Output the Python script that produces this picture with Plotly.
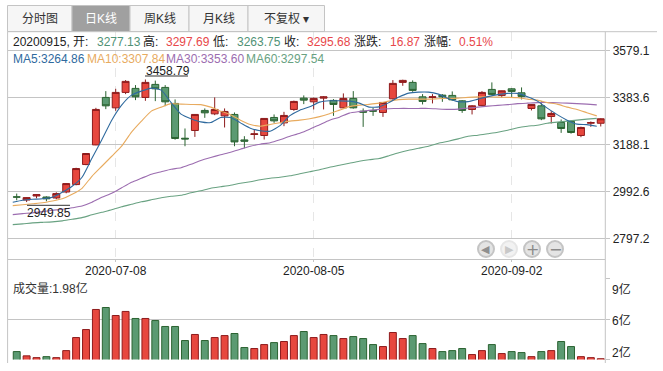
import plotly.graph_objects as go
import pandas as pd

W, H = 663, 371

dates = pd.bdate_range("2020-06-22", periods=70).strftime("%Y-%m-%d").tolist()
holidays = {"2020-06-25", "2020-06-26"}
dates = [d for d in dates if d not in holidays][:60]
index = list(range(60))

opens = [2971.5,2958.4,2975.1,2970.9,2966.8,2991.7,3022.5,3105.7,3187.2,3384.4,3341.2,3405.2,3421.9,3384.4,3438.5,3426,3359.5,3215,3247.2,3330.4,
         3316.2,3307.9,3313.7,3208,3230.5,3226.4,3301.2,3278.8,3334.5,3381.5,3366.1,3381.5,3372,3341.2,3380.3,3327.4,3330,3322,3378.6,3446.8,
         3446.8,3386.9,3384.4,3394,3392.8,3370.3,3334.5,3351.2,3417.7,3392.8,3420.2,3403.6,3338.7,3349.5,3305.4,3280.4,3284.6,3226.4,3277.5,3277.13]
highs = [2985.1,2969.7,2982.2,2973.8,2990.5,3027.9,3092.4,3152.7,3341.2,3410.6,3420.2,3456.4,3435.6,3458.79,3454.3,3435.6,3376.1,3255.5,3315,3338.7,
         3384.4,3338.7,3322,3223.4,3252.6,3298.3,3313.7,3324.5,3371.1,3392.8,3383.6,3389.8,3377.4,3401.1,3410.6,3338.7,3341.2,3364.9,3456.4,3458,
         3455.2,3398.2,3398.2,3398.2,3409.4,3373.2,3352.4,3410.6,3446.8,3412.7,3423.1,3426,3356.6,3369,3327.4,3292.9,3290,3263,3284.6,3297.69]
lows = [2957.2,2949.85,2965.5,2953,2961.4,2986.3,3019.6,3102.8,3186,3335.8,3328.7,3398.2,3373.2,3370.3,3369,3348.2,3208.9,3181.8,3220.5,3299.6,
        3310.8,3259.6,3181.8,3173.5,3209.7,3209.7,3278.8,3265,3328.7,3356.6,3334.5,3334.5,3307.9,3337.8,3337.8,3262.1,3307.9,3303.7,3375.3,3432.7,
        3407.7,3355.3,3359.5,3366.1,3371.1,3320.4,3313.7,3348.2,3394,3384.4,3382.8,3376.1,3330.4,3290,3276.3,3237.2,3233.8,3219.3,3262.1,3263.75]
closes = [2970.5,2968.4,2980.9,2963.4,2985.1,3026.7,3089.1,3151.5,3334.5,3349.5,3405.2,3451,3386.9,3446.8,3420.2,3366.1,3213.9,3212,3313.7,3320.4,
          3334.5,3326.2,3199.7,3202.6,3233,3297.1,3287.1,3309.6,3367.8,3373.2,3380.3,3386.9,3355.3,3380.3,3341.2,3323.3,3327.4,3363.6,3442.7,3455.2,
          3413.6,3367.8,3386.9,3386.9,3374.4,3330.4,3349.5,3405.2,3396.9,3411.9,3409.4,3388.6,3355.3,3295.4,3317.9,3255.5,3238.8,3259.6,3279.6,3295.68]

ma5 = [2948.9,2957.2,2961.4,2963.4,2969.7,2990.5,3015.4,3052.9,3131.9,3208.9,3290,3352.4,3394,3410.6,3423.1,3414.8,3362.8,3315,3296.2,3282.9,
       3280.4,3301.2,3301.2,3278.8,3256.7,3246.3,3244.2,3267.1,3308.7,3331.6,3345.3,3364.9,3370.3,3370.3,3369,3360.7,3344.1,3345.3,3362.8,3385.7,
       3402.3,3406.5,3406.5,3398.2,3380.3,3367,3367,3377.4,3387.8,3396.1,3401.1,3401.1,3386.9,3369,3339.9,3312.9,3290,3273.4,3271.3,3264.86]
ma10 = [2935.2,2938.5,2942.6,2946.8,2954.3,2963.4,2982.2,3007.1,3057,3098.6,3140.2,3181.8,3240.1,3285.8,3327.4,3344.1,3358.6,3356.6,3355.3,3354.5,
        3344.1,3327.4,3312.9,3290,3272.1,3265,3272.1,3279.6,3285.8,3290,3296.2,3304.6,3317,3331.6,3346.2,3352.4,3355.7,3360.7,3369,3375.3,
        3377.4,3377.4,3377.4,3379,3380.3,3381.5,3384.8,3386.5,3386.9,3385.7,3384.8,3383.6,3377.4,3373.2,3362.8,3356.6,3344.1,3334.5,3321.2,3307.84]
ma30 = [2897.7,2901.9,2905.2,2910.2,2915.6,2919.8,2926,2933.5,2948.9,2969.7,2986.3,3009.2,3032.1,3048.7,3065.4,3075.8,3086.2,3092.4,3107,3122.4,
        3134.8,3146.5,3156.9,3169.4,3181.8,3190.2,3196.4,3208.9,3223.4,3235.9,3252.6,3271.3,3290,3302.5,3319.1,3325.4,3330.8,3334.9,3337.4,3338.7,
        3338.7,3338.7,3338.7,3336.6,3334.9,3335.8,3340.8,3344.1,3348.2,3351.6,3354.5,3358.6,3360.7,3362.8,3363.2,3362,3360.7,3358.6,3356.6,3353.6]
ma60 = [2856.1,2859.4,2863.6,2865.7,2867.8,2871.9,2878.2,2885.2,2896.9,2907.3,2917.7,2930.2,2940.6,2951,2959.3,2967.6,2973.8,2978,2988.4,2996.7,
        3007.1,3013.4,3019.6,3027.9,3034.2,3042.5,3048.7,3052.9,3059.1,3067.4,3075.8,3084.1,3094.5,3102.8,3111.1,3119.4,3125.7,3130.7,3142.3,3154.8,
        3165.2,3173.5,3181.8,3194.3,3202.6,3212.2,3223.4,3227.6,3233.8,3240.1,3248.4,3258.8,3265,3269.2,3277.5,3281.7,3285.8,3290,3294.2,3297.54]
volume = [2.63,2.24,2.08,2.17,2.08,2.72,3.91,4.64,6.47,6.65,5.92,6.29,5.65,5.65,5.46,4.92,4.92,3.64,4.19,3.64,
          3.91,4.09,4.28,3.0,2.91,3.27,3.45,3.55,4.09,4.46,3.91,4.19,4.09,3.82,4.0,3.82,3.27,3.09,4.37,3.82,
          4.09,3.36,2.91,2.63,2.72,2.91,2.36,2.72,3.27,2.45,2.63,2.54,2.17,2.63,2.72,3.55,3.09,2.17,2.08,1.98]

price_ticks = [3579.1, 3383.6, 3188.1, 2992.6, 2797.2]
volume_ticks = [1.9, 5.6, 9.3]
date_ticks = [10, 30, 50]

RED, RED_EDGE = "#e7473e", "#8e1b1c"
GREEN, GREEN_EDGE = "#5b9a72", "#2b6331"
GRID = "#c4c4c4"
TXT = "#222222"
FONT = "Liberation Sans, Noto Sans CJK SC, sans-serif"
MA_BLUE, MA_ORANGE, MA_PURPLE, MA_GREEN = "#2f6a9e", "#e8ab5f", "#9c6db0", "#69a282"
TXT_RED, TXT_GREEN = "#e8474a", "#4f9276"

PLOT_L, PLOT_R = 8, 605.3
MAIN_T, MAIN_B = 32, 259.4
VOL_T, VOL_B = 278, 359.6
LINE_SHIFT = 0.4

px = lambda x: x / W
py = lambda y: 1 - y / H

fig = go.Figure()
fig.add_trace(go.Candlestick(
    x=index, open=opens, high=highs, low=lows, close=closes,
    increasing=dict(line=dict(color=RED_EDGE, width=1), fillcolor=RED),
    decreasing=dict(line=dict(color=GREEN_EDGE, width=1), fillcolor=GREEN),
    whiskerwidth=0, showlegend=False, hoverinfo="skip", xaxis="x", yaxis="y"))
for series, color in ((ma60, MA_GREEN), (ma30, MA_PURPLE), (ma10, MA_ORANGE), (ma5, MA_BLUE)):
    fig.add_trace(go.Scatter(
        x=[i - LINE_SHIFT for i in index], y=series, mode="lines",
        line=dict(color=color, width=1.1, shape="spline", smoothing=0.5),
        showlegend=False, hoverinfo="skip", xaxis="x", yaxis="y"))
up = [c >= o for o, c in zip(opens, closes)]
fig.add_trace(go.Bar(
    x=index, y=volume, width=0.7,
    marker=dict(color=[RED if u else GREEN for u in up],
                line=dict(color=[RED_EDGE if u else GREEN_EDGE for u in up], width=1)),
    showlegend=False, hoverinfo="skip", xaxis="x2", yaxis="y2"))

xr = [-0.88, 59.46]
shapes, anns = [], []

def rect(x0, y0, x1, y1, fill, line=GRID, width=1):
    shapes.append(dict(type="rect", xref="paper", yref="paper", x0=px(x0), x1=px(x1), y0=py(y0), y1=py(y1),
                       fillcolor=fill, line=dict(color=line, width=width), layer="below"))

def seg(x0, y0, x1, y1, color=GRID, width=1):
    shapes.append(dict(type="line", xref="paper", yref="paper", x0=px(x0), x1=px(x1), y0=py(y0), y1=py(y1),
                       line=dict(color=color, width=width)))

def label(x, y, text, color=TXT, size=12, anchor="left", family=FONT):
    anns.append(dict(xref="paper", yref="paper", x=px(x), y=py(y), text=text, showarrow=False,
                     xanchor=anchor, yanchor="middle", borderpad=0,
                     font=dict(family=family, size=size, color=color)))

# tab strip
tab_edges = [7.5, 72, 130, 189, 248, 324.5]
tab_names = ["分时图", "日K线", "周K线", "月K线", "不复权 ▾"]
for k, name in enumerate(tab_names):
    active = k == 1
    rect(tab_edges[k], 5.5, tab_edges[k + 1], 31.5, "#a0a0a0" if active else "#f6f6f6")
    label((tab_edges[k] + tab_edges[k + 1]) / 2, 18.5, name, "#ffffff" if active else "#333333", 12, "center")

# frame
seg(7.5, 31.7, 657, 31.7)
seg(7.6, 31.7, 7.6, 363)
seg(605.3, 31.7, 605.3, 363)

# quote line
for x, text, color in [(12, "20200915, 开:", TXT), (96, "3277.13", TXT_GREEN), (142, "高:", TXT), (165, "3297.69", TXT_RED),
                       (212, "低:", TXT), (236, "3263.75", TXT_GREEN), (283, "收:", TXT), (306, "3295.68", TXT_RED),
                       (353, "涨跌:", TXT), (389, "16.87", TXT_RED), (423, "涨幅:", TXT), (458, "0.51%", TXT_RED)]:
    label(x, 41.5, text, color)

# MA legend
for x, text, color in [(12, "MA5:3264.86", MA_BLUE), (86, "MA10:3307.84", MA_ORANGE),
                       (165, "MA30:3353.60", MA_PURPLE), (245, "MA60:3297.54", MA_GREEN)]:
    label(x, 59.5, text, color)

# extreme labels
label(145, 70.5, "3458.79")
seg(145, 76, 188, 76, "#333333")
label(26, 212.5, "2949.85")
seg(27, 205.3, 70, 205.3, "#333333")

# volume labels
label(12, 288, "成交量:1.98亿", "#333333")
for y, text in [(289, "9亿"), (320, "6亿"), (352, "2亿")]:
    label(610.5, y, text)

# navigation buttons
for x, glyph, ring, fg in [(486, "◀", "#c4c4c4", "#8f8f8f"), (509, "▶", "#e6e6e6", "#c8c8c8"),
                           (532, "+", "#c4c4c4", "#8a8a8a"), (555, "−", "#c4c4c4", "#8a8a8a")]:
    shapes.append(dict(type="circle", xref="paper", yref="paper", x0=px(x - 8), x1=px(x + 8),
                       y0=py(249 + 8), y1=py(249 - 8), fillcolor="#e4e4e4" if ring != "#e6e6e6" else "#f2f2f2",
                       line=dict(color=ring, width=2)))
    label(x, 249, glyph, fg, 11 if glyph in "◀▶" else 16, "center", "DejaVu Sans")

fig.update_layout(
    width=W, height=H, margin=dict(l=0, r=0, t=0, b=0),
    paper_bgcolor="#ffffff", plot_bgcolor="#ffffff", showlegend=False,
    shapes=shapes, annotations=anns, boxgap=0.3, boxgroupgap=0,
    xaxis=dict(domain=[px(PLOT_L), px(PLOT_R)], range=xr, anchor="y", rangeslider=dict(visible=False),
               tickmode="array", tickvals=date_ticks, ticktext=[dates[i] for i in date_ticks],
               showgrid=True, gridcolor="#e6e6e6", griddash="dash", gridwidth=1,
               showline=True, linecolor=GRID, linewidth=1, ticks="outside", ticklen=2, tickcolor=GRID,
               ticklabelstandoff=-2,
               tickfont=dict(family=FONT, size=12, color=TXT), zeroline=False),
    yaxis=dict(domain=[py(MAIN_B), py(MAIN_T)], range=[2711.8, 3656.1], side="right", anchor="x",
               tickmode="array", tickvals=price_ticks, ticktext=[f"{v:.1f}" for v in price_ticks],
               showgrid=True, gridcolor=GRID, gridwidth=1, ticks="outside", ticklen=4, tickcolor=GRID,
               tickfont=dict(family=FONT, size=12, color=TXT), zeroline=False, showline=False),
    xaxis2=dict(domain=[px(PLOT_L), px(PLOT_R)], range=xr, anchor="y2", showticklabels=False, ticks="",
                showgrid=False, zeroline=False, showline=False),
    yaxis2=dict(domain=[py(VOL_B), py(VOL_T)], range=[1.9, 9.34], side="right", anchor="x2",
                tickmode="array", tickvals=volume_ticks, showticklabels=False, showgrid=True,
                gridcolor=GRID, gridwidth=1, ticks="outside", ticklen=4, tickcolor=GRID,
                zeroline=False, showline=False),
)
fig.write_html("out.html", config={"displayModeBar": False},
               post_script="document.body.style.margin='0';document.body.style.overflow='hidden';")
